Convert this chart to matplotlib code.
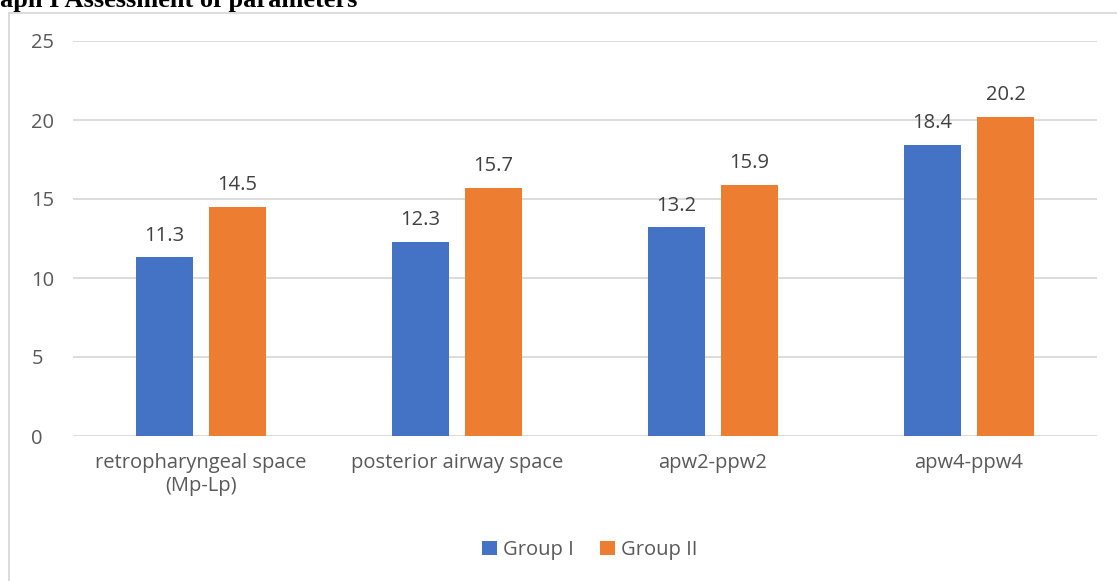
import numpy as np
import matplotlib
matplotlib.use('Agg')
import matplotlib.pyplot as plt
from matplotlib.lines import Line2D

categories = ['retropharyngeal space\n(Mp-Lp)', 'posterior airway space', 'apw2-ppw2', 'apw4-ppw4']
group1 = [11.3, 12.3, 13.2, 18.4]
group2 = [14.5, 15.7, 15.9, 20.2]
series_names = ['Group I', 'Group II']
yticks = [0, 5, 10, 15, 20, 25]

blue = '#4472C4'
orange = '#ED7D31'
grey_txt = '#595959'
fs = 14.5

plt.rcParams['font.family'] = ['Open Sans', 'DejaVu Sans']

fig = plt.figure(figsize=(11.17, 5.81), dpi=100)
W, H = 1117, 581
# plot area in pixels: x 73..1097, y 41 (25) .. 436 (0)
ax = fig.add_axes([73 / W, 1 - 436 / H, 1024 / W, 395 / H])

x = np.arange(len(categories))
bw = 0.222
gap = 0.063
off = (bw + gap) / 2
b1 = ax.bar(x - off, group1, bw, color=blue, label=series_names[0], zorder=3)
b2 = ax.bar(x + off, group2, bw, color=orange, label=series_names[1], zorder=3)

for bars, vals in ((b1, group1), (b2, group2)):
    for r, v in zip(bars, vals):
        ax.text(r.get_x() + r.get_width() / 2, v + 0.75, f'{v:.1f}',
                ha='center', va='bottom', fontsize=fs, color='#404040')

ax.set_xlim(-0.5, len(categories) - 0.5)
ax.set_ylim(0, 25)
ax.set_yticks(yticks)
ax.yaxis.grid(True, color='#D9D9D9', linewidth=1.3, zorder=0)
ax.set_axisbelow(True)
for s in ax.spines.values():
    s.set_visible(False)
ax.tick_params(axis='both', length=0, labelsize=fs, colors=grey_txt)
ax.tick_params(axis='y', pad=30)
ax.tick_params(axis='x', pad=12)
ax.set_xticks(x)
ax.set_xticklabels(categories, linespacing=1.25)
for t in ax.get_yticklabels():
    t.set_horizontalalignment('left')

leg = fig.legend(handles=[b1, b2], labels=series_names, loc='center',
                 bbox_to_anchor=(590 / W, 1 - 550 / H), ncol=2, frameon=False,
                 fontsize=fs, handlelength=0.75, handleheight=0.75,
                 handletextpad=0.3, columnspacing=1.3)
for t in leg.get_texts():
    t.set_color(grey_txt)

# chart frame
fig.add_artist(Line2D([8.5 / W, 8.5 / W], [0, 1 - 12.5 / H], transform=fig.transFigure,
                      color='#D9D9D9', linewidth=1.3))
fig.add_artist(Line2D([8.5 / W, 1], [1 - 12.5 / H, 1 - 12.5 / H], transform=fig.transFigure,
                      color='#D9D9D9', linewidth=1.3))

fig.text(0, 1 - 7.5 / H, 'aph I Assessment of parameters', fontsize=19,
         fontweight='bold', family=['Liberation Serif'], ha='left', va='baseline')

fig.savefig('out.png', dpi=100)
